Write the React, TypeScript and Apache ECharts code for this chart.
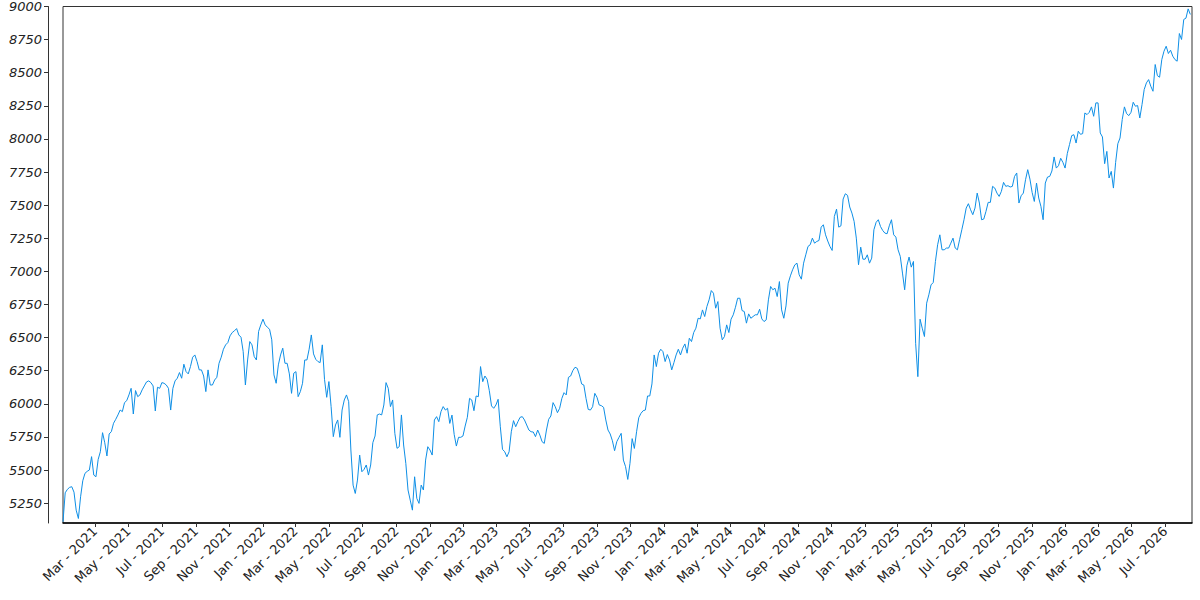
import React, { useEffect, useRef } from "react";
import * as echarts from "echarts";

const MONTH_NAMES = ["Jan", "Feb", "Mar", "Apr", "May", "Jun", "Jul", "Aug", "Sep", "Oct", "Nov", "Dec"];

// first sample date and sampling step (days) of the series
const START_DATE = "2021-01-02";
const STEP_DAYS = 4;
const X_MIN_DATE = "2021-01-02";
const X_MAX_DATE = "2026-08-19";

const TICK_MONTHS = [
  "2021-03", "2021-05", "2021-07", "2021-09", "2021-11",
  "2022-01", "2022-03", "2022-05", "2022-07", "2022-09", "2022-11",
  "2023-01", "2023-03", "2023-05", "2023-07", "2023-09", "2023-11",
  "2024-01", "2024-03", "2024-05", "2024-07", "2024-09", "2024-11",
  "2025-01", "2025-03", "2025-05", "2025-07", "2025-09", "2025-11",
  "2026-01", "2026-03", "2026-05", "2026-07",
];

const Y_TICKS = [5250, 5500, 5750, 6000, 6250, 6500, 6750, 7000, 7250, 7500, 7750, 8000, 8250, 8500, 8750, 9000];
const Y_MIN = 5100;
const Y_MAX = 9000;

const VALUES = [
  5109, 5328, 5354, 5369, 5374, 5333, 5197, 5134, 5298, 5419,
  5475, 5490, 5500, 5601, 5462, 5449, 5580, 5638, 5782, 5706,
  5606, 5772, 5790, 5853, 5883, 5916, 5953, 5941, 6009, 6024,
  6067, 6117, 5923, 6100, 6054, 6067, 6105, 6135, 6165, 6173,
  6160, 6135, 5946, 6125, 6117, 6160, 6155, 6142, 6117, 5953,
  6117, 6173, 6193, 6236, 6193, 6299, 6243, 6226, 6281, 6352,
  6369, 6319, 6256, 6256, 6210, 6092, 6256, 6142, 6142, 6180,
  6200, 6306, 6352, 6412, 6445, 6462, 6513, 6538, 6551, 6568,
  6520, 6503, 6394, 6142, 6331, 6470, 6445, 6357, 6331, 6546,
  6596, 6639, 6596, 6578, 6563, 6483, 6218, 6155, 6294, 6369,
  6420, 6306, 6306, 6226, 6079, 6231, 6243, 6054, 6092, 6155,
  6331, 6331, 6412, 6520, 6377, 6336, 6319, 6311, 6445, 6185,
  6049, 6168, 5979, 5752, 5840, 5878, 5747, 5953, 6029, 6067,
  6016, 5651, 5386, 5323, 5424, 5613, 5487, 5505, 5538, 5462,
  5538, 5707, 5757, 5916, 5923, 5916, 5991, 6160, 6117, 5979,
  6029, 5777, 5664, 5676, 5916, 5689, 5550, 5349, 5273, 5197,
  5449, 5286, 5248, 5386, 5349, 5575, 5676, 5651, 5613, 5878,
  5903, 5865, 5941, 5979, 5953, 5966, 5852, 5915, 5769, 5681,
  5747, 5747, 5757, 5832, 5898, 6041, 6029, 5948, 6059, 6054,
  6281, 6167, 6210, 6185, 6099, 5984, 5966, 5991, 6034, 5827,
  5656, 5638, 5600, 5638, 5789, 5873, 5827, 5865, 5898, 5903,
  5878, 5840, 5802, 5789, 5787, 5752, 5802, 5764, 5714, 5701,
  5802, 5883, 5908, 6009, 5978, 5933, 5966, 6041, 6084, 6067,
  6200, 6210, 6251, 6276, 6268, 6218, 6150, 6142, 6041, 5958,
  5953, 5978, 6079, 6049, 5991, 5986, 5973, 5878, 5802, 5772,
  5721, 5646, 5714, 5747, 5777, 5575, 5525, 5429, 5550, 5737,
  5663, 5789, 5895, 5928, 5948, 5953, 6059, 6059, 6150, 6369,
  6281, 6382, 6412, 6394, 6319, 6372, 6331, 6256, 6311, 6369,
  6412, 6369, 6420, 6452, 6382, 6495, 6470, 6538, 6571, 6646,
  6641, 6709, 6659, 6734, 6785, 6855, 6835, 6722, 6772, 6571,
  6483, 6508, 6596, 6538, 6639, 6672, 6729, 6797, 6797, 6704,
  6697, 6609, 6679, 6646, 6659, 6672, 6672, 6714, 6641, 6621,
  6634, 6785, 6886, 6861, 6873, 6810, 6923, 6709, 6646, 6739,
  6911, 6966, 7012, 7049, 7062, 6974, 6941, 7062, 7125, 7188,
  7201, 7251, 7213, 7226, 7233, 7334, 7352, 7276, 7229, 7188,
  7158, 7415, 7470, 7334, 7344, 7546, 7586, 7574, 7486, 7440,
  7377, 7251, 7050, 7183, 7092, 7092, 7125, 7062, 7100, 7314,
  7370, 7390, 7339, 7309, 7289, 7284, 7344, 7390, 7276, 7259,
  7163, 7113, 6987, 6861, 7042, 7108, 7032, 7075, 6457, 6205,
  6639, 6571, 6508, 6760, 6823, 6898, 6916, 7075, 7201, 7276,
  7163, 7163, 7176, 7176, 7213, 7251, 7176, 7163, 7239, 7314,
  7390, 7478, 7511, 7465, 7428, 7478, 7591, 7516, 7390, 7395,
  7453, 7521, 7521, 7642, 7629, 7591, 7566, 7604, 7672, 7642,
  7647, 7637, 7642, 7717, 7743, 7516, 7571, 7591, 7692, 7768,
  7697, 7596, 7528, 7667, 7554, 7491, 7390, 7667, 7712, 7717,
  7758, 7864, 7780, 7798, 7854, 7823, 7780, 7889, 7957, 8025,
  8032, 7969, 8058, 8035, 8040, 8196, 8184, 8201, 8242, 8171,
  8272, 8272, 8045, 8015, 7813, 7906, 7705, 7755, 7629, 7823,
  7964, 8007, 8146, 8242, 8191, 8176, 8201, 8277, 8247, 8252,
  8158, 8259, 8373, 8423, 8448, 8398, 8360, 8562, 8478, 8466,
  8599, 8662, 8700, 8645, 8670, 8625, 8599, 8587, 8796, 8751,
  8902, 8912, 8982, 8940,
];

const DAY_MS = 86400000;
const toTs = (s: string) => {
  const [y, m, d] = s.split("-").map(Number);
  return Date.UTC(y, m - 1, d || 1);
};

export default function App() {
  const ref = useRef<HTMLDivElement>(null);

  useEffect(() => {
    document.body.style.margin = "0";
    if (!ref.current) return;
    const chart = echarts.init(ref.current, undefined, { renderer: "svg" });

    const start = toTs(START_DATE);
    const data = VALUES.map((v, i) => [start + i * STEP_DAYS * DAY_MS, v]);
    const xTicks = TICK_MONTHS.map((s) => toTs(s));

    const fmt = (val: number) => {
      const d = new Date(val);
      return `${MONTH_NAMES[d.getUTCMonth()]} - ${d.getUTCFullYear()}`;
    };

    chart.setOption({
      animation: false,
      backgroundColor: "#ffffff",
      grid: {
        left: 63,
        right: 8,
        top: 6,
        bottom: 77,
        show: true,
        borderColor: "#333",
        borderWidth: 1,
        backgroundColor: "transparent",
        containLabel: false,
      },
      xAxis: {
        type: "value",
        min: toTs(X_MIN_DATE),
        max: toTs(X_MAX_DATE),
        scale: true,
        axisLine: { show: true, lineStyle: { color: "#000", width: 1.5 } },
        axisTick: { show: true, customValues: xTicks, length: 4, lineStyle: { color: "#333" } },
        axisLabel: {
          customValues: xTicks,
          rotate: 45,
          formatter: fmt,
          fontFamily: "DejaVu Sans",
          fontSize: 13,
          color: "#222",
          margin: 6,
          hideOverlap: false,
          showMinLabel: true,
          showMaxLabel: true,
        },
        splitLine: { show: false },
      },
      yAxis: {
        type: "value",
        min: Y_MIN,
        max: Y_MAX,
        offset: 15,
        axisLine: { show: true, lineStyle: { color: "#333", width: 1 } },
        axisTick: { show: true, customValues: Y_TICKS, length: 4, lineStyle: { color: "#333" } },
        axisLabel: {
          customValues: Y_TICKS,
          formatter: (v: number) => String(v),
          fontFamily: "DejaVu Sans",
          fontStyle: "italic",
          fontSize: 13,
          color: "#222",
          margin: 6,
        },
        splitLine: { show: false },
      },
      series: [
        {
          type: "line",
          data,
          symbol: "none",
          showSymbol: false,
          clip: true,
          lineStyle: { width: 1, color: "#0e8fe6" },
          itemStyle: { color: "#0e8fe6" },
        },
      ],
    });

    return () => chart.dispose();
  }, []);

  return <div ref={ref} style={{ width: 1200, height: 600 }} />;
}
